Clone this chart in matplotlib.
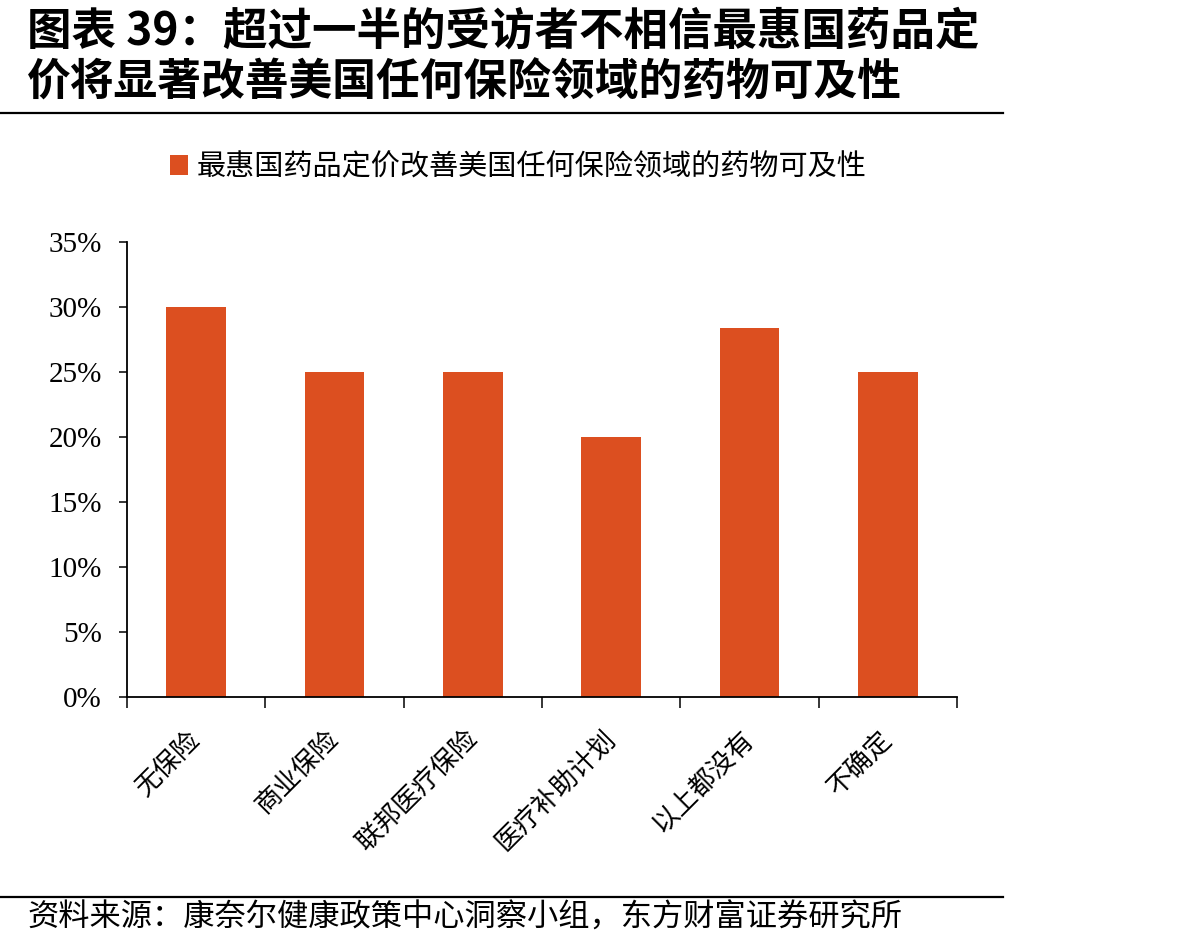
import matplotlib
matplotlib.use("Agg")
import matplotlib.pyplot as plt
from matplotlib.lines import Line2D
from matplotlib.ticker import FuncFormatter, FixedLocator

categories = ["无保险", "商业保险", "联邦医疗保险", "医疗补助计划", "以上都没有", "不确定"]
values = [30.0, 25.0, 25.0, 20.0, 28.4, 25.0]
series_name = "最惠国药品定价改善美国任何保险领域的药物可及性"
title_line1 = "图表 39：超过一半的受访者不相信最惠国药品定"
title_line2 = "价将显著改善美国任何保险领域的药物可及性"
source_text = "资料来源：康奈尔健康政策中心洞察小组，东方财富证券研究所"
yticks = [0, 5, 10, 15, 20, 25, 30, 35]

CJK = ["Noto Sans CJK SC", "DejaVu Sans"]
plt.rcParams['font.family'] = CJK

W, H = 1193, 949
fig = plt.figure(figsize=(W / 100, H / 100), dpi=100)

left, right = 127 / W, 957 / W
bottom, top = 1 - 697 / H, 1 - 242 / H
ax = fig.add_axes([left, bottom, right - left, top - bottom])

bar_color = "#DC4F20"
x = list(range(len(categories)))
bars = ax.bar(x, values, width=0.43, color=bar_color, label=series_name, zorder=2)

ax.set_xlim(-0.5, len(categories) - 0.5)
ax.set_ylim(0, 35)
ax.set_yticks(yticks)
ax.yaxis.set_major_formatter(FuncFormatter(lambda v, p: f"{int(round(v))}%"))
for lab in ax.get_yticklabels():
    lab.set_fontfamily("Liberation Serif")
    lab.set_fontsize(21)
ax.tick_params(axis='y', direction='out', length=6, width=1.1, pad=12, colors='black')

ax.set_xticks(x)
ax.set_xticklabels(categories, rotation=45, ha='right', va='center',
                   rotation_mode='anchor', fontsize=19)
ax.tick_params(axis='x', which='major', length=0, pad=27)
ax.xaxis.set_minor_locator(FixedLocator([i - 0.5 for i in range(len(categories) + 1)]))
ax.tick_params(axis='x', which='minor', direction='out', length=8, width=1.1, colors='black')

for s in ['top', 'right']:
    ax.spines[s].set_visible(False)
for s in ['left', 'bottom']:
    ax.spines[s].set_linewidth(1.3)
    ax.spines[s].set_color('black')

# legend
fig.legend(handles=[bars], labels=[series_name], loc='center left',
           bbox_to_anchor=(170 / W, 1 - 167 / H), frameon=False,
           fontsize=21, handlelength=0.6, handleheight=0.7, handletextpad=0.3,
           borderpad=0, borderaxespad=0)

# titles
fig.text(27 / W, 1 - 32 / H, title_line1, fontsize=32, fontweight='bold',
         ha='left', va='center', family=CJK)
fig.text(27 / W, 1 - 83 / H, title_line2, fontsize=31.5, fontweight='bold',
         ha='left', va='center', family=CJK)
fig.add_artist(Line2D([0, 1003 / W], [1 - 113 / H, 1 - 113 / H],
                      transform=fig.transFigure, color='black', linewidth=1.6))
fig.add_artist(Line2D([0, 1003 / W], [1 - 897 / H, 1 - 897 / H],
                      transform=fig.transFigure, color='black', linewidth=1.6))
fig.text(27 / W, 1 - 918 / H, source_text, fontsize=22.5, ha='left', va='center', family=CJK)

fig.savefig("out.png", dpi=100)
